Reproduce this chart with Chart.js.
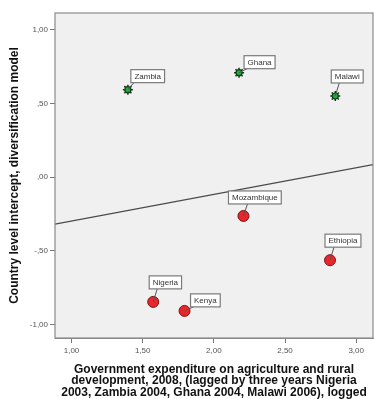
<!DOCTYPE html>
<html>
<head>
<meta charset="utf-8">
<script src="https://cdn.jsdelivr.net/npm/chart.js@4.4.0/dist/chart.umd.min.js"></script>
<style>
html,body{margin:0;padding:0;background:#fff;}
#wrap{width:374px;height:399px;position:relative;}
</style>
</head>
<body>
<div id="wrap"><canvas id="c" width="374" height="399"></canvas></div>
<script>
// ---- data ----
const countriesHigh = ['Zambia', 'Ghana', 'Malawi'];
const xHigh = [1.396, 2.177, 2.853];
const yHigh = [0.593, 0.708, 0.55];

const countriesLow = ['Mozambique', 'Ethiopia', 'Nigeria', 'Kenya'];
const xLow = [2.208, 2.816, 1.574, 1.794];
const yLow = [-0.264, -0.564, -0.847, -0.908];

const fitX = [0.884, 3.118];
const fitY = [-0.32, 0.085];

const xTicks = [1.0, 1.5, 2.0, 2.5, 3.0];
const xTickLabels = ['1,00', '1,50', '2,00', '2,50', '3,00'];
const yTicks = [-1.0, -0.5, 0.0, 0.5, 1.0];
const yTickLabels = ['-1,00', '-,50', ',00', ',50', '1,00'];

const xTitle = ['Government expenditure on agriculture and rural',
                'development, 2008, (lagged by three years Nigeria',
                '2003, Zambia 2004, Ghana 2004, Malawi 2006), logged'];
const yTitle = 'Country level intercept, diversification model';

// label box placement (pixels relative to point): [dx of box left, dy of box bottom]
const labelPlacement = {
  'Zambia': [3, -7], 'Ghana': [5, -4], 'Malawi': [-4, -13],
  'Mozambique': [-15, -12], 'Ethiopia': [-5, -13], 'Nigeria': [-4, -13], 'Kenya': [6, -4]
};

const toPts = (xs, ys) => xs.map((x, i) => ({x: x, y: ys[i]}));

const frameBg = {
  id: 'frameBg',
  beforeDatasetsDraw(chart) {
    const {ctx, chartArea: a} = chart;
    ctx.save();
    ctx.fillStyle = '#f0f0f0';
    ctx.fillRect(a.left, a.top, a.right - a.left, a.bottom - a.top);
    ctx.restore();
  },
  afterDraw(chart) {
    const {ctx, chartArea: a} = chart;
    ctx.save();
    ctx.strokeStyle = '#8a8a8a';
    ctx.lineWidth = 1.2;
    ctx.strokeRect(a.left, a.top, a.right - a.left, a.bottom - a.top);
    ctx.restore();
  }
};

const pointLabels = {
  id: 'pointLabels',
  afterDatasetsDraw(chart) {
    const {ctx} = chart;
    ctx.save();
    ctx.font = '8px "Liberation Sans", Arial, sans-serif';
    ctx.textBaseline = 'middle';
    chart.data.datasets.forEach((ds, di) => {
      if (!ds.names) return;
      const meta = chart.getDatasetMeta(di);
      meta.data.forEach((el, i) => {
        const name = ds.names[i];
        const pl = labelPlacement[name];
        const w = ctx.measureText(name).width + 7;
        const h = 13;
        const left = el.x + pl[0];
        const bottom = el.y + pl[1];
        const top = bottom - h;
        const lx = Math.min(Math.max(el.x + 4, left + 3), left + w - 3);
        ctx.strokeStyle = '#555';
        ctx.lineWidth = 1;
        ctx.beginPath();
        ctx.moveTo(el.x, el.y);
        ctx.lineTo(lx, bottom);
        ctx.stroke();
        ctx.fillStyle = '#ffffff';
        ctx.fillRect(left, top, w, h);
        ctx.strokeStyle = '#7a7a7a';
        ctx.lineWidth = 1.2;
        ctx.strokeRect(left, top, w, h);
        ctx.fillStyle = '#333';
        ctx.fillText(name, left + 3.5, top + h / 2 + 0.5);
      });
    });
    ctx.restore();
  }
};

new Chart(document.getElementById('c'), {
  type: 'scatter',
  data: {
    datasets: [
      {
        type: 'line',
        data: toPts(fitX, fitY),
        borderColor: '#4a4a4a',
        borderWidth: 1.3,
        pointRadius: 0,
        fill: false,
        order: 5
      },
      {
        data: toPts(xLow, yLow),
        names: countriesLow,
        pointStyle: 'circle',
        pointRadius: 5.5,
        backgroundColor: '#e8262b',
        borderColor: '#7d1414',
        borderWidth: 1,
        order: 2
      },
      {
        data: toPts(xHigh, yHigh),
        pointStyle: 'star',
        pointRadius: 5,
        borderColor: '#1b2b1b',
        borderWidth: 1.5,
        order: 3
      },
      {
        data: toPts(xHigh, yHigh),
        names: countriesHigh,
        pointStyle: 'circle',
        pointRadius: 3,
        backgroundColor: '#1fae3a',
        borderColor: '#10401a',
        borderWidth: 1.2,
        order: 1
      }
    ]
  },
  options: {
    responsive: false,
    animation: false,
    events: [],
    layout: {autoPadding: false, padding: {top: 13, right: 1, left: 0, bottom: 0}},
    plugins: {legend: {display: false}, tooltip: {enabled: false}},
    scales: {
      x: {
        type: 'linear',
        min: 0.884, max: 3.118,
        afterBuildTicks: s => { s.ticks = xTicks.map(v => ({value: v})); },
        afterFit: s => { s.height = 61; s.paddingLeft = 0; s.paddingRight = 0; },
        ticks: {
          callback: (v) => xTickLabels[xTicks.indexOf(v)] ?? '',
          color: '#555',
          font: {family: '"Liberation Sans", Arial, sans-serif', size: 8},
          padding: 3,
          maxRotation: 0,
          autoSkip: false
        },
        grid: {drawOnChartArea: false, drawTicks: true, tickLength: 5, color: '#777'},
        border: {display: true, color: '#8a8a8a'},
        title: {
          display: true,
          text: xTitle,
          color: '#111',
          font: {family: '"Liberation Sans", Arial, sans-serif', size: 12, weight: 'bold', lineHeight: 0.96},
          padding: {top: 0, bottom: 0.75}
        }
      },
      y: {
        type: 'linear',
        min: -1.092, max: 1.113,
        afterBuildTicks: s => { s.ticks = yTicks.map(v => ({value: v})); },
        afterFit: s => { s.width = 55; s.paddingTop = 0; s.paddingBottom = 0; },
        ticks: {
          callback: (v) => yTickLabels[yTicks.indexOf(v)] ?? '',
          color: '#555',
          font: {family: '"Liberation Sans", Arial, sans-serif', size: 8},
          padding: 2,
          autoSkip: false
        },
        grid: {drawOnChartArea: false, drawTicks: true, tickLength: 5, color: '#777'},
        border: {display: true, color: '#8a8a8a'},
        title: {
          display: true,
          text: yTitle,
          color: '#111',
          font: {family: '"Liberation Sans", Arial, sans-serif', size: 12, weight: 'bold'},
          padding: {top: 7, bottom: 0}
        }
      }
    }
  },
  plugins: [frameBg, pointLabels]
});
</script>
</body>
</html>
